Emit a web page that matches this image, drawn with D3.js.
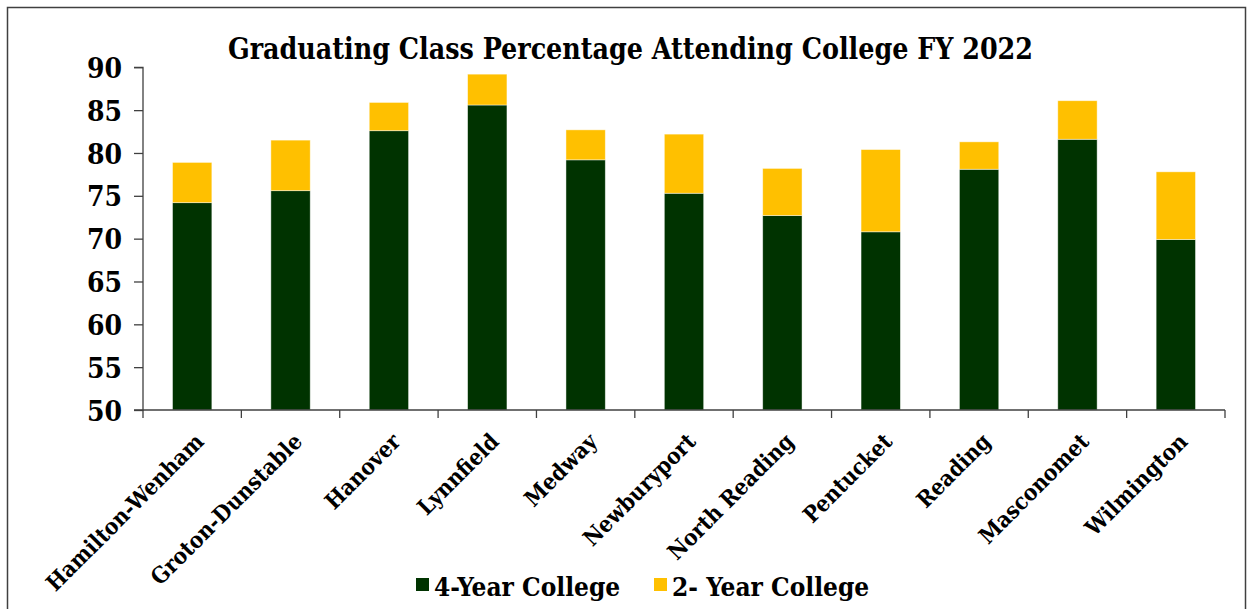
<!DOCTYPE html>
<html>
<head>
<meta charset="utf-8">
<script src="https://cdn.jsdelivr.net/npm/d3@7"></script>
<style>
  html, body { margin: 0; padding: 0; background: #fff; }
  svg { display: block; }
  text { font-family: "DejaVu Serif Condensed", "DejaVu Serif", serif; font-stretch: condensed; font-weight: bold; fill: #000; }
</style>
</head>
<body>
<svg id="chart" width="1250" height="609"></svg>
<script>
const categories = ["Hamilton-Wenham", "Groton-Dunstable", "Hanover", "Lynnfield", "Medway", "Newburyport", "North Reading", "Pentucket", "Reading", "Masconomet", "Wilmington"];
const fourYear = [74.2, 75.6, 82.6, 85.6, 79.2, 75.3, 72.7, 70.8, 78.1, 81.6, 69.9];
const twoYear  = [4.7, 5.9, 3.3, 3.6, 3.5, 6.9, 5.5, 9.6, 3.2, 4.5, 7.9];
const seriesNames = ["4-Year College", "2- Year College"];
const seriesColors = ["#003300", "#FFC000"];
const yTicks = [50, 55, 60, 65, 70, 75, 80, 85, 90];
const title = "Graduating Class Percentage Attending College FY 2022";

const svg = d3.select("#chart");
const m = { left: 143, right: 1225, top: 67.3, bottom: 410 };

// frame
svg.append("rect").attr("x", 7.5).attr("y", 7.5).attr("width", 1238).attr("height", 640)
  .attr("fill", "none").attr("stroke", "#404040").attr("stroke-width", 1.5);

const x = d3.scaleBand().domain(categories).range([m.left, m.right]).paddingInner(0.6).paddingOuter(0.3);
const xb = d3.scaleBand().domain(categories).range([m.left, m.right]);
const y = d3.scaleLinear().domain([50, 90]).range([m.bottom, m.top]);

const rows = categories.map((c, i) => ({ cat: c, four: fourYear[i], two: twoYear[i] }));
const stacked = d3.stack().keys(["four", "two"])(rows);

const g = svg.append("g");
stacked.forEach((layer, li) => {
  g.selectAll(null).data(layer).enter().append("rect")
    .attr("x", d => x(d.data.cat))
    .attr("width", x.bandwidth())
    .attr("y", d => y(d[1]))
    .attr("height", d => y(Math.max(50, d[0])) - y(d[1]))
    .attr("fill", seriesColors[li])
    .attr("stroke", "#ffffff").attr("stroke-opacity", 0.55).attr("stroke-width", 0.8);
});

// y axis
const yAxis = d3.axisLeft(y).tickValues(yTicks).tickSize(9).tickPadding(12).tickFormat(d3.format("d"));
const ya = svg.append("g").attr("transform", `translate(${m.left},0)`).call(yAxis);
ya.select(".domain").attr("stroke", "#404040").attr("stroke-width", 1.3).attr("d", `M-9,${m.top}H0V${m.bottom}H-9`);
ya.selectAll(".tick line").attr("stroke", "#404040").attr("stroke-width", 1.3);
ya.selectAll(".tick text").style("font-size", "28px").attr("dy", "0.36em");

// x axis with boundary ticks
const xa = svg.append("g").attr("transform", `translate(0,${m.bottom})`);
xa.append("line").attr("x1", m.left).attr("x2", m.right).attr("stroke", "#404040").attr("stroke-width", 1.3);
const bounds = categories.map(c => xb(c)).concat([m.right]);
xa.selectAll(".bt").data(bounds).enter().append("line")
  .attr("x1", d => d).attr("x2", d => d).attr("y1", 0).attr("y2", 8)
  .attr("stroke", "#404040").attr("stroke-width", 1.3);
xa.selectAll(".xl").data(categories).enter().append("text")
  .attr("transform", d => `translate(${xb(d) + xb.bandwidth() / 2 + 13},${33}) rotate(-45)`)
  .attr("text-anchor", "end")
  .style("font-size", "22.5px")
  .text(d => d);

// title
svg.append("text").attr("x", 630.5).attr("y", 59).attr("text-anchor", "middle")
  .style("font-size", "29px").attr("textLength", 805).attr("lengthAdjust", "spacingAndGlyphs")
  .text(title);

// legend
const legX = [416, 654];
seriesNames.forEach((n, i) => {
  svg.append("rect").attr("x", legX[i]).attr("y", 578).attr("width", 13).attr("height", 13).attr("fill", seriesColors[i]);
  svg.append("text").attr("x", legX[i] + 18).attr("y", 596).style("font-size", "26px").text(n);
});
</script>
</body>
</html>
